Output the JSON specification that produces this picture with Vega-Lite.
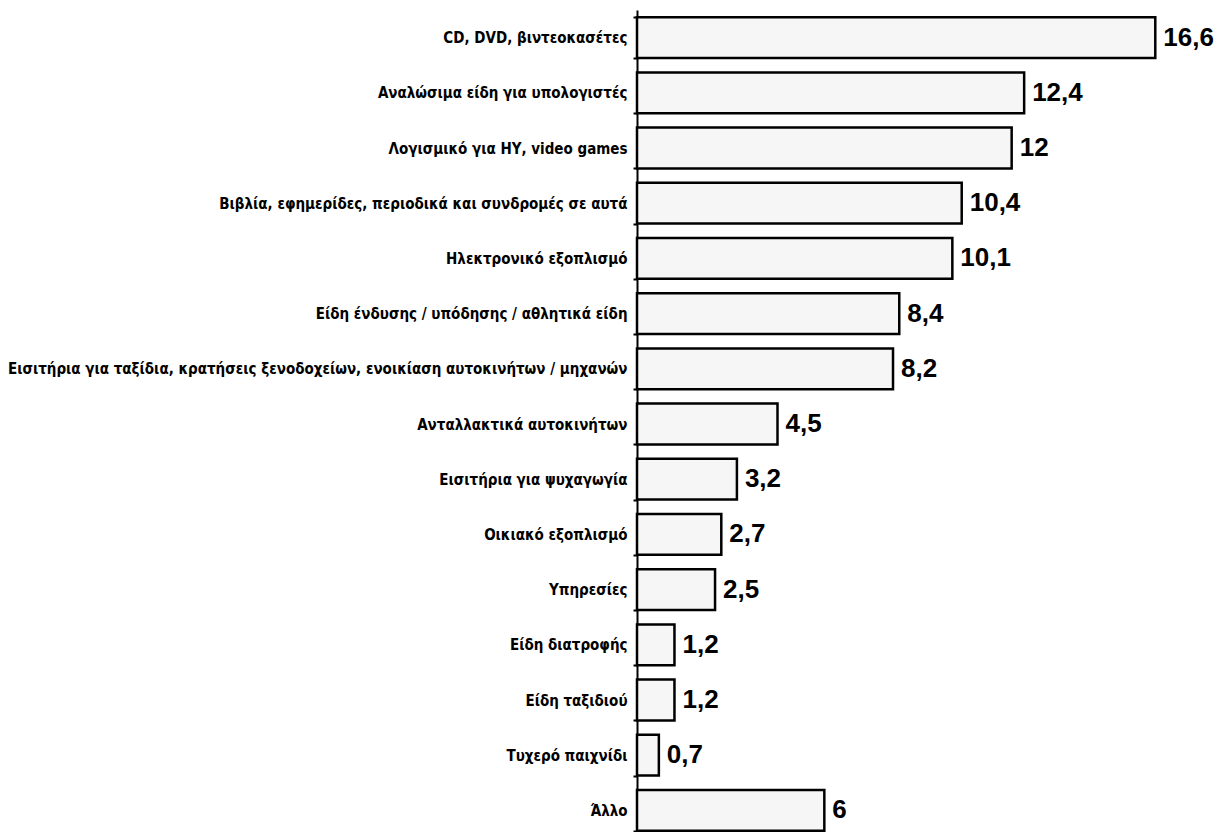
{
  "$schema": "https://vega.github.io/schema/vega-lite/v6.json",
  "autosize": "none",
  "padding": {"left": 637, "top": 10, "right": 24, "bottom": 0},
  "width": 562,
  "height": 828,
  "background": "white",
  "config": {
    "view": {"stroke": null},
    "locale": {
      "number": {"decimal": ",", "thousands": ".", "grouping": [3], "currency": ["", " €"]}
    }
  },
  "data": {
    "values": [
      {"category": "CD, DVD, βιντεοκασέτες", "percent": 16.6},
      {"category": "Αναλώσιμα είδη για υπολογιστές", "percent": 12.4},
      {"category": "Λογισμικό για ΗΥ, video games", "percent": 12},
      {"category": "Βιβλία, εφημερίδες, περιοδικά και συνδρομές σε αυτά", "percent": 10.4},
      {"category": "Ηλεκτρονικό εξοπλισμό", "percent": 10.1},
      {"category": "Είδη ένδυσης / υπόδησης / αθλητικά είδη", "percent": 8.4},
      {"category": "Εισιτήρια για ταξίδια, κρατήσεις ξενοδοχείων, ενοικίαση αυτοκινήτων / μηχανών", "percent": 8.2},
      {"category": "Ανταλλακτικά αυτοκινήτων", "percent": 4.5},
      {"category": "Εισιτήρια για ψυχαγωγία", "percent": 3.2},
      {"category": "Οικιακό εξοπλισμό", "percent": 2.7},
      {"category": "Υπηρεσίες", "percent": 2.5},
      {"category": "Είδη διατροφής", "percent": 1.2},
      {"category": "Είδη ταξιδιού", "percent": 1.2},
      {"category": "Τυχερό παιχνίδι", "percent": 0.7},
      {"category": "Άλλο", "percent": 6}
    ]
  },
  "encoding": {
    "y": {
      "field": "category",
      "type": "nominal",
      "sort": null,
      "scale": {"paddingInner": 0.26, "paddingOuter": 0.13},
      "axis": {
        "title": null,
        "domainColor": "black",
        "domainWidth": 2,
        "tickColor": "black",
        "tickSize": 4,
        "tickWidth": 2,
        "tickBand": "extent",
        "labelFont": "DejaVu Sans Condensed",
        "labelFontSize": 15,
        "labelFontWeight": "bold",
        "labelColor": "black",
        "labelPadding": 6,
        "labelLimit": 0
      }
    },
    "x": {
      "field": "percent",
      "type": "quantitative",
      "scale": {"domain": [0, 18], "nice": false},
      "axis": null
    }
  },
  "layer": [
    {
      "mark": {"type": "bar", "fill": "#f6f6f6", "stroke": "black", "strokeWidth": 2.5}
    },
    {
      "mark": {
        "type": "text",
        "align": "left",
        "baseline": "middle",
        "dx": 8,
        "font": "Liberation Sans",
        "fontSize": 26,
        "fontWeight": "bold",
        "color": "black"
      },
      "encoding": {
        "text": {"field": "percent", "type": "quantitative", "format": ".1~f"}
      }
    }
  ]
}
